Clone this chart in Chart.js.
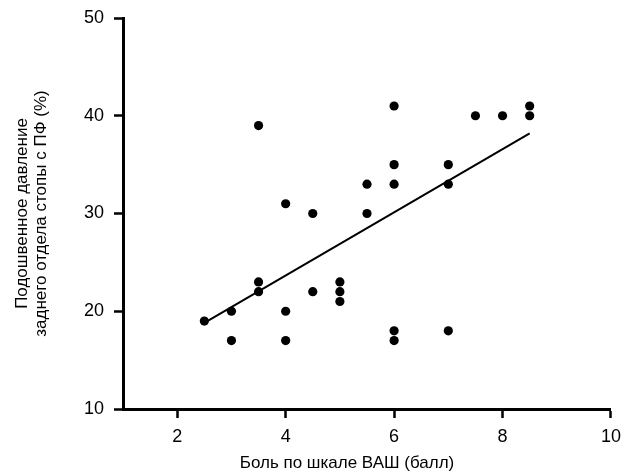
<!DOCTYPE html>
<html>
<head>
<meta charset="utf-8">
<script src="https://cdn.jsdelivr.net/npm/chart.js@4.4.1/dist/chart.umd.min.js"></script>
<style>
  html, body { margin: 0; padding: 0; background: #fff; }
  canvas { display: block; }
</style>
</head>
<body>
<canvas id="chart" width="629" height="475"></canvas>
<script>
// VAS pain score (x) vs rear-foot plantar pressure (y), one dot per patient
const painVAS = [2.5, 3, 3, 3.5, 3.5, 3.5, 4, 4, 4, 4.5, 4.5, 5, 5, 5,
                 5.5, 5.5, 6, 6, 6, 6, 6, 7, 7, 7, 7.5, 8, 8.5, 8.5];
const pressure = [19, 20, 17, 39, 23, 22, 31, 20, 17, 30, 22, 23, 22, 21,
                  33, 30, 41, 35, 33, 18, 17, 35, 33, 18, 40, 40, 41, 40];

// regression line, ends
const fitX = [2.5, 8.5];
const fitY = [18.8, 38.2];

const xTicks = [2, 4, 6, 8, 10];
const yTicks = [10, 20, 30, 40, 50];

const xTitle = "Боль по шкале ВАШ (балл)";
const yTitle = ["Подошвенное давление", "заднего отдела стопы с ПФ (%)"];

const FONT = "'Liberation Sans', Arial, Helvetica, sans-serif";
const INK = "#000";

function toPoints(xs, ys){
  return xs.map((x, i) => ({ x, y: ys[i] }));
}

// x title sits a bit left of the plot centre in the original
const xTitlePlugin = {
  id: "xTitle",
  afterDraw(chart){
    const { ctx, chartArea } = chart;
    ctx.save();
    ctx.font = `17px ${FONT}`;
    ctx.fillStyle = INK;
    ctx.textAlign = "center";
    ctx.textBaseline = "middle";
    ctx.fillText(xTitle, (chartArea.left + chartArea.right) / 2 - 20, 463);
    ctx.restore();
  }
};

const axisCommon = {
  border: { display: true, color: INK, width: 3 },
  grid: {
    display: true,
    drawOnChartArea: false,
    drawTicks: true,
    tickLength: 9,
    tickColor: INK,
    tickWidth: 2.5,
  },
};

new Chart(document.getElementById("chart"), {
  type: "scatter",
  data: {
    datasets: [
      {
        label: "points",
        data: toPoints(painVAS, pressure),
        backgroundColor: INK,
        borderWidth: 0,
        pointRadius: 4.6,
        pointHoverRadius: 4.6,
      },
      {
        type: "line",
        label: "fit",
        data: toPoints(fitX, fitY),
        borderColor: INK,
        borderWidth: 2,
        pointRadius: 0,
        fill: false,
      }
    ]
  },
  options: {
    responsive: false,
    animation: false,
    layout: { padding: { left: 13, right: 16, top: 18, bottom: 0 } },
    plugins: {
      legend: { display: false },
      tooltip: { enabled: false },
    },
    scales: {
      x: {
        type: "linear",
        min: 1,
        max: 10,
        ...axisCommon,
        afterBuildTicks: (s) => { s.ticks = xTicks.map(v => ({ value: v })); },
        afterFit: (s) => { s.height = 66; },
        ticks: {
          color: INK,
          padding: 8,
          font: { family: FONT, size: 18 },
          maxRotation: 0,
        },
      },
      y: {
        type: "linear",
        min: 10,
        max: 50,
        ...axisCommon,
        afterBuildTicks: (s) => { s.ticks = yTicks.map(v => ({ value: v })); },
        afterFit: (s) => { s.width = 110; s.paddingTop = 0; s.paddingBottom = 0; },
        ticks: {
          color: INK,
          padding: 10,
          font: { family: FONT, size: 18 },
        },
        title: {
          display: true,
          text: yTitle,
          color: INK,
          padding: { top: 0, bottom: 0 },
          font: { family: FONT, size: 17, lineHeight: 1.1 },
        },
      },
    },
  },
  plugins: [xTitlePlugin],
});
</script>
</body>
</html>
